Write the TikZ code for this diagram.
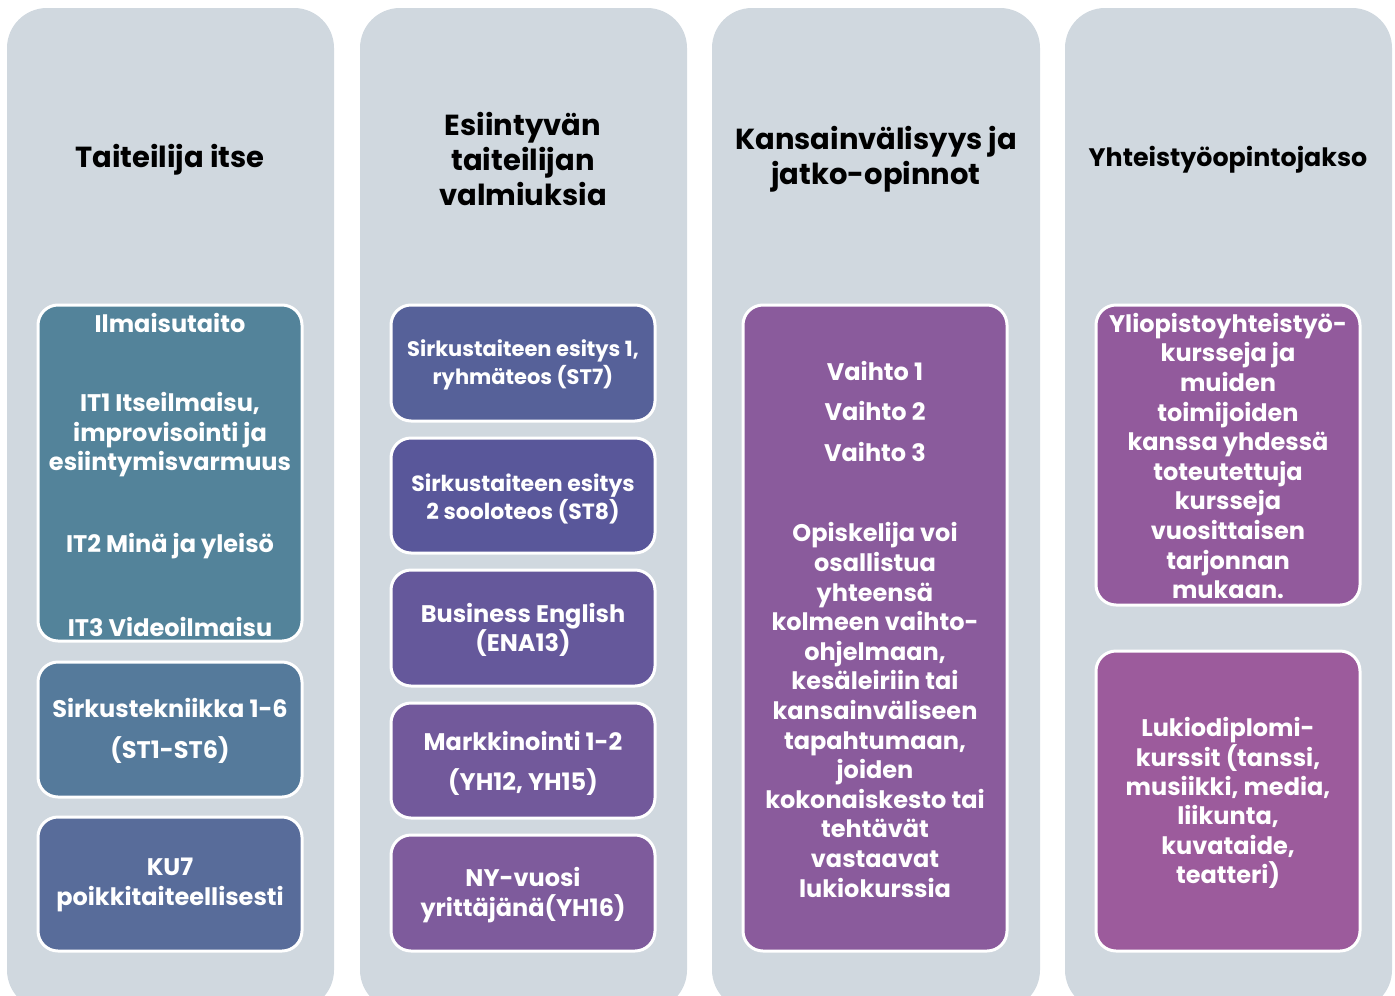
\documentclass[tikz,border=0pt]{standalone}
\usepackage{fontspec}
\setmainfont{Poppins}
\usetikzlibrary{positioning}
\definecolor{colgray}{HTML}{D0D8DF}
\definecolor{boxA}{HTML}{53839A}
\definecolor{boxB}{HTML}{557A9B}
\definecolor{boxC}{HTML}{586C9A}
\definecolor{boxD}{HTML}{566199}
\definecolor{boxE}{HTML}{59579A}
\definecolor{boxF}{HTML}{65589B}
\definecolor{boxG}{HTML}{72599B}
\definecolor{boxH}{HTML}{7E5B9C}
\definecolor{boxI}{HTML}{8A5B9C}
\definecolor{boxJ}{HTML}{925A9C}
\definecolor{boxK}{HTML}{9C5B9C}
\tikzset{colbg/.style={fill=colgray, rounded corners=40pt}}
\tikzset{cbox/.style={draw=white, line width=3pt, rounded corners=20pt, minimum width=264pt, inner sep=0pt}}
\tikzset{ctext/.style={text=white, align=center, inner sep=0pt, font=\bfseries\fontsize{24}{29.5}\selectfont}}
\tikzset{chead/.style={align=center, inner sep=0pt, font=\bfseries\fontsize{29}{35}\selectfont}}

\begin{document}
\begin{tikzpicture}[x=1pt, y=-1pt]
    \clip (0, 0) rectangle (1395, 996);
    \useasboundingbox (0, 0) rectangle (1395, 996);

    \fill[colbg] (7, 8) rectangle (334, 1010);
    \fill[colbg] (360, 8) rectangle (687, 1010);
    \fill[colbg] (712, 8) rectangle (1040, 1010);
    \fill[colbg] (1065, 8) rectangle (1392, 1010);

    \node[chead] (h1) at (170, 160) {Taiteilija itse};
    \node[chead] (h2) at (523, 159) {Esiintyvän\\taiteilijan\\valmiuksia};
    \node[chead] (h3) at (876, 159) {Kansainvälisyys ja\\jatko-opinnot};
    \node[chead, font=\bfseries\fontsize{25.3}{35}\selectfont] (h4) at (1228, 160) {Yhteistyöopintojakso};

    \node[cbox, fill=boxA, minimum height=336pt] (b11) at (170, 473) {};
    \node[cbox, fill=boxB, minimum height=135pt] (b12) at (170, 729.5) {};
    \node[cbox, fill=boxC, minimum height=134pt] (b13) at (170, 884) {};

    \node[ctext] (t11a) at (170, 323) {Ilmaisutaito};
    \node[ctext] (t11b) at (170, 435) {IT1 Itseilmaisu,\\improvisointi ja\\esiintymisvarmuus};
    \node[ctext] (t11c) at (170, 546) {IT2 Minä ja yleisö};
    \node[ctext] (t11d) at (170, 627) {IT3 Videoilmaisu};
    \node[ctext, font=\bfseries\fontsize{24}{41}\selectfont] (t12) at (170, 731) {Sirkustekniikka 1-6\\(ST1-ST6)};
    \node[ctext] (t13) at (170, 885) {KU7\\poikkitaiteellisesti};

    \node[cbox, fill=boxD, minimum height=116pt] (b21) at (523, 363) {};
    \node[cbox, fill=boxE, minimum height=115pt] (b22) at (523, 495.5) {};
    \node[cbox, fill=boxF, minimum height=116pt] (b23) at (523, 628) {};
    \node[cbox, fill=boxG, minimum height=115pt] (b24) at (523, 760.5) {};
    \node[cbox, fill=boxH, minimum height=116pt] (b25) at (523, 893) {};

    \node[ctext, font=\bfseries\fontsize{21}{28}\selectfont] (t21) at (523, 365) {Sirkustaiteen esitys 1,\\ryhmäteos (ST7)};
    \node[ctext, font=\bfseries\fontsize{22}{28}\selectfont] (t22) at (523, 499) {Sirkustaiteen esitys\\2 sooloteos (ST8)};
    \node[ctext] (t23) at (523, 630) {Business English\\(ENA13)};
    \node[ctext, font=\bfseries\fontsize{24}{40}\selectfont] (t24) at (523, 763) {Markkinointi 1-2\\(YH12, YH15)};
    \node[ctext] (t25) at (523, 895) {NY-vuosi\\yrittäjänä(YH16)};

    \node[cbox, fill=boxI, minimum height=646pt] (b31) at (875, 628) {};
    \node[ctext, font=\bfseries\fontsize{24}{40.5}\selectfont] (t31a) at (875, 411) {Vaihto 1\\Vaihto 2\\Vaihto 3};
    \node[ctext, font=\bfseries\fontsize{24}{29.6}\selectfont] (t31b) at (875, 710) {Opiskelija voi\\osallistua\\yhteensä\\kolmeen vaihto-\\ohjelmaan,\\kesäleiriin tai\\kansainväliseen\\tapahtumaan,\\joiden\\kokonaiskesto tai\\tehtävät\\vastaavat\\lukiokurssia};

    \node[cbox, fill=boxJ, minimum height=300pt] (b41) at (1228, 455) {};
    \node[cbox, fill=boxK, minimum height=300pt] (b42) at (1228, 801) {};
    \node[ctext, font=\bfseries\fontsize{24}{29.6}\selectfont] (t41) at (1228, 456) {Yliopistoyhteistyö-\\kursseja ja\\muiden\\toimijoiden\\kanssa yhdessä\\toteutettuja\\kursseja\\vuosittaisen\\tarjonnan\\mukaan.};
    \node[ctext, font=\bfseries\fontsize{24}{29.4}\selectfont] (t42) at (1228, 803) {Lukiodiplomi-\\kurssit (tanssi,\\musiikki, media,\\liikunta,\\kuvataide,\\teatteri)};
\end{tikzpicture}
\end{document}
